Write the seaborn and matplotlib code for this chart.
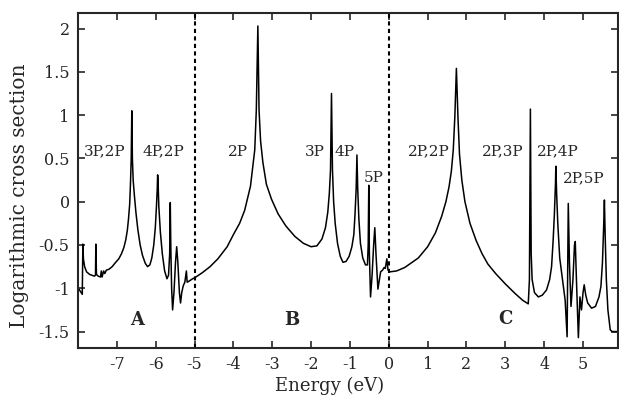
import numpy as np
import pandas as pd
import matplotlib
matplotlib.use("Agg")
import matplotlib.pyplot as plt
import seaborn as sns

# ---- data ----
energy_A = [-7.99, -7.89, -7.875, -7.86, -7.83, -7.78, -7.70, -7.58, -7.55, -7.54, -7.525,
            -7.48, -7.42, -7.40, -7.38, -7.34, -7.31, -7.27, -7.20, -7.12, -7.03, -6.95,
            -6.88, -6.82, -6.77, -6.73, -6.70, -6.67, -6.65, -6.63, -6.615, -6.60, -6.58,
            -6.55, -6.51, -6.46, -6.40, -6.34, -6.27, -6.21, -6.15, -6.10, -6.05, -6.01,
            -5.98, -5.96, -5.95, -5.94, -5.92, -5.88, -5.83, -5.77, -5.71, -5.67, -5.64,
            -5.625, -5.61, -5.59, -5.565, -5.53, -5.49, -5.46, -5.43, -5.39, -5.36, -5.33,
            -5.29, -5.25, -5.21, -5.19, -5.15, -5.05]
cs_A = [-1.00, -1.07, -0.49, -0.66, -0.75, -0.81, -0.84, -0.86, -0.85, -0.49, -0.84,
        -0.86, -0.87, -0.80, -0.87, -0.80, -0.83, -0.79, -0.78, -0.75, -0.70, -0.66,
        -0.60, -0.53, -0.44, -0.33, -0.20, -0.03, 0.20, 0.50, 1.05, 0.50, 0.25,
        0.08, -0.12, -0.32, -0.50, -0.62, -0.71, -0.75, -0.73, -0.65, -0.50, -0.30,
        -0.05, 0.15, 0.31, 0.25, -0.05, -0.35, -0.60, -0.80, -0.89, -0.85, -0.60,
        -0.01, -0.55, -1.00, -1.25, -1.05, -0.70, -0.52, -0.70, -1.05, -1.17, -1.05,
        -0.97, -0.93, -0.80, -0.93, -0.92, -0.89]

energy_B = [-5.00, -4.80, -4.60, -4.40, -4.16, -4.00, -3.84, -3.71, -3.56, -3.45, -3.41,
            -3.37, -3.34, -3.30, -3.24, -3.15, -3.02, -2.85, -2.65, -2.42, -2.20, -2.00,
            -1.85, -1.72, -1.63, -1.57, -1.53, -1.50, -1.475, -1.45, -1.42, -1.38, -1.32,
            -1.25, -1.18, -1.10, -1.02, -0.95, -0.90, -0.87, -0.84, -0.82, -0.80, -0.77,
            -0.73, -0.67, -0.60, -0.55, -0.53, -0.515, -0.50, -0.47, -0.43, -0.39, -0.36,
            -0.33, -0.28, -0.24, -0.21, -0.16, -0.12, -0.09, -0.05, -0.02, 0.03]
cs_B = [-0.88, -0.82, -0.75, -0.66, -0.52, -0.38, -0.25, -0.10, 0.18, 0.60, 1.06,
        2.03, 1.06, 0.70, 0.45, 0.20, 0.03, -0.14, -0.28, -0.40, -0.48, -0.52,
        -0.51, -0.43, -0.30, -0.12, 0.10, 0.37, 1.25, 0.37, 0.00, -0.25, -0.48,
        -0.63, -0.70, -0.69, -0.63, -0.52, -0.38, -0.15, 0.15, 0.54, 0.15, -0.20,
        -0.48, -0.65, -0.73, -0.73, -0.50, 0.19, -0.60, -1.10, -0.85, -0.50, -0.30,
        -0.60, -1.01, -0.90, -0.81, -0.79, -0.76, -0.77, -0.66, -0.79, -0.81]

energy_C = [0.20, 0.41, 0.76, 1.00, 1.20, 1.36, 1.47, 1.55, 1.61, 1.66, 1.70, 1.74, 1.78,
            1.82, 1.88, 1.96, 2.09, 2.25, 2.40, 2.55, 2.75, 3.00, 3.25, 3.45, 3.59, 3.62,
            3.645, 3.665, 3.69, 3.75, 3.85, 3.95, 4.06, 4.14, 4.19, 4.23, 4.26, 4.29, 4.30,
            4.32, 4.35, 4.40, 4.45, 4.50, 4.54, 4.59, 4.62, 4.65, 4.69, 4.74, 4.78, 4.80,
            4.83, 4.88, 4.92, 4.96, 5.00, 5.03, 5.07, 5.12, 5.22, 5.32, 5.41, 5.46, 5.50,
            5.53, 5.55, 5.57, 5.60, 5.64, 5.70, 5.75, 5.92]
cs_C = [-0.80, -0.76, -0.65, -0.52, -0.36, -0.17, 0.00, 0.17, 0.35, 0.60, 0.98, 1.54, 0.98,
        0.55, 0.25, 0.00, -0.25, -0.45, -0.60, -0.72, -0.83, -0.95, -1.06, -1.14, -1.18, -0.90,
        1.07, -0.60, -0.90, -1.05, -1.10, -1.08, -1.02, -0.90, -0.75, -0.45, -0.17, 0.20, 0.41,
        0.10, -0.25, -0.65, -0.83, -1.00, -1.14, -1.56, -0.02, -0.70, -1.21, -0.90, -0.50, -0.46,
        -0.90, -1.57, -1.10, -1.25, -1.05, -0.96, -1.08, -1.17, -1.23, -1.21, -1.10, -0.98, -0.70,
        -0.30, 0.02, -0.40, -0.90, -1.25, -1.48, -1.50, -1.50]

peak_labels = ["3P,2P", "4P,2P", "2P", "3P", "4P", "5P", "2P,2P", "2P,3P", "2P,4P", "2P,5P"]
peak_label_x = [-7.32, -5.79, -3.89, -1.91, -1.13, -0.40, 1.03, 2.94, 4.36, 5.02]
peak_label_y = [0.58, 0.58, 0.58, 0.58, 0.58, 0.27, 0.58, 0.58, 0.58, 0.27]

region_names = ["A", "B", "C"]
region_x = [-6.48, -2.49, 3.00]
region_y = [-1.37, -1.37, -1.36]

boundaries = [-5, 0]

xticks = [-7, -6, -5, -4, -3, -2, -1, 0, 1, 2, 3, 4, 5]
xticklabels = ["-7", "-6", "-5", "-4", "-3", "-2", "-1", "0", "1", "2", "3", "4", "5"]
yticks = [-1.5, -1.0, -0.5, 0.0, 0.5, 1.0, 1.5, 2.0]
yticklabels = ["-1.5", "-1", "-0.5", "0", "0.5", "1", "1.5", "2"]

# ---- figure ----
sns.set_style("ticks")
plt.rcParams["font.family"] = ["DejaVu Serif"]
plt.rcParams["axes.unicode_minus"] = False

df = pd.DataFrame({
    "Energy": energy_A + energy_B + energy_C,
    "LogCS": cs_A + cs_B + cs_C,
})

fig = plt.figure(figsize=(6.19, 3.98), dpi=100)
ax = fig.add_axes([78 / 619, 1 - 348 / 398, 540 / 619, 335 / 398])

sns.lineplot(data=df, x="Energy", y="LogCS", estimator=None, sort=False,
             color="black", linewidth=1.1, ax=ax)

for b in boundaries:
    ax.axvline(b, color="black", linestyle=(0, (2.0, 1.6)), linewidth=1.5)

for t, x, y in zip(peak_labels, peak_label_x, peak_label_y):
    ax.text(x, y, t, ha="center", va="center", fontsize=11)

for t, x, y in zip(region_names, region_x, region_y):
    ax.text(x, y, t, ha="center", va="center", fontsize=13, fontweight="bold")

ax.set_xlim(-8.0, 5.9)
ax.set_ylim(-1.69, 2.18)
ax.set_xticks(xticks)
ax.set_xticklabels(xticklabels)
ax.set_yticks(yticks)
ax.set_yticklabels(yticklabels)
ax.tick_params(direction="in", length=5, width=1.2, top=True, right=True,
               labelsize=11.5, pad=6)
for s in ax.spines.values():
    s.set_linewidth(1.5)
    s.set_visible(True)

ax.set_xlabel("Energy (eV)", fontsize=13, labelpad=2)
ax.set_ylabel("Logarithmic cross section", fontsize=14.5, labelpad=3)
ax.xaxis.set_label_coords((330 - 78) / 540, -0.085)
ax.yaxis.set_label_coords(-0.09, (348 - 196) / 335)

fig.savefig("out.png", dpi=100)
